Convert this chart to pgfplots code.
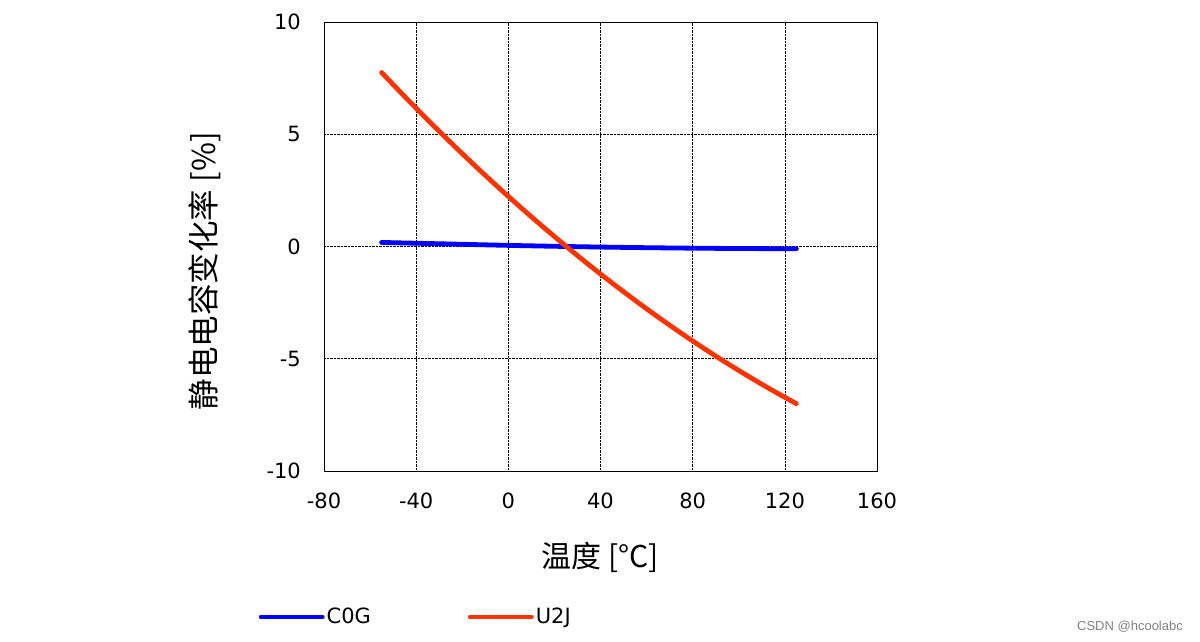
\documentclass[border=0pt]{standalone}
\usepackage{fontspec}
\setmainfont{DejaVu Sans}
\newfontfamily\cjk{Noto Sans CJK SC}
\newfontfamily\wm{Liberation Sans}
\usepackage{pgfplots}
\pgfplotsset{compat=1.18}
\definecolor{cog}{RGB}{0,0,255}
\definecolor{utj}{RGB}{255,51,0}
\begin{document}
\begin{tikzpicture}
\useasboundingbox (0,0) rectangle (1200pt,642pt);
\begin{axis}[
  at={(324pt,171pt)}, anchor=south west,
  scale only axis, width=553pt, height=449pt,
  xmin=-80, xmax=160, ymin=-10, ymax=10,
  xtick={-80,-40,0,40,80,120,160},
  ytick={-10,-5,0,5,10},
  major tick length=0pt,
  axis line style={black, line width=0.9pt},
  grid=major,
  major grid style={black, densely dotted, line width=0.6pt},
  /pgf/number format/assume math mode=true,
  tick label style={font=\fontsize{21}{25}\selectfont},
  yticklabel style={inner sep=0pt, xshift=-23pt},
  xticklabel style={inner sep=0pt, yshift=-22pt},
  xlabel={温度 [°C]},
  ylabel={静电电容变化率 [\%]},
  xlabel style={font=\cjk\fontsize{30}{34}\selectfont, at={(axis description cs:0.5,-0.1915)}, anchor=center},
  ylabel style={font=\cjk\fontsize{31.5}{35}\selectfont, at={(axis description cs:-0.215,0.445)}, anchor=center},
  legend columns=2,
  legend style={draw=none, fill=none, at={(axis description cs:-0.1235,-0.325)}, anchor=west,
    font=\fontsize{21}{25}\selectfont,
    /tikz/every even column/.append style={column sep=95pt},
    nodes={inner sep=2pt}},
  legend image code/.code={\draw[#1] (0pt,0pt) -- (58pt,0pt); \path (0pt,0pt) -- (61pt,0pt);},
]
\addplot[cog, line width=4.8pt, line cap=round, smooth] coordinates {
(-55,0.18) (-25,0.11) (0,0.05) (25,0.0) (50,-0.04) (75,-0.07) (100,-0.09) (125,-0.1)};
\addlegendentry{C0G}
\addplot[utj, line width=4.8pt, line cap=round, smooth] coordinates {
(-55,7.75) (-45,6.680) (-35,5.639) (-25,4.629) (-15,3.647) (-5,2.695) (5,1.773)
(15,0.879) (25,0.016) (35,-0.819) (45,-1.624) (55,-2.398) (65,-3.145) (75,-3.861)
(85,-4.548) (95,-5.206) (105,-5.833) (115,-6.432) (125,-7.0)};
\addlegendentry{U2J}
\end{axis}
\node[gray, font=\wm\fontsize{13}{15}\selectfont] at (1130pt,15pt) {CSDN @hcoolabc};
\end{tikzpicture}
\end{document}
